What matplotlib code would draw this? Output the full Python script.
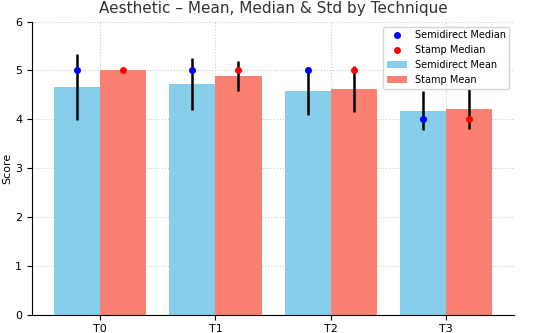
import matplotlib
matplotlib.use("Agg")
import matplotlib.pyplot as plt
import numpy as np

techniques = ["T0", "T1", "T2", "T3"]
semi_mean = [4.66, 4.72, 4.58, 4.18]
semi_std = [0.67, 0.53, 0.49, 0.39]
semi_median = [5, 5, 5, 4]
stamp_mean = [5.0, 4.89, 4.62, 4.21]
stamp_std = [0.0, 0.31, 0.48, 0.41]
stamp_median = [5, 5, 5, 4]

x = np.arange(len(techniques))
w = 0.4

fig, ax = plt.subplots(figsize=(5.5, 3.33), dpi=100)
ax.bar(x - w / 2, semi_mean, w, color="#87CEEB", label="Semidirect Mean", zorder=2)
ax.bar(x + w / 2, stamp_mean, w, color="#FA8072", label="Stamp Mean", zorder=2)
ax.errorbar(x - w / 2, semi_mean, yerr=semi_std, fmt="none", ecolor="black", elinewidth=1.8, zorder=3)
ax.errorbar(x + w / 2, stamp_mean, yerr=stamp_std, fmt="none", ecolor="black", elinewidth=1.8, zorder=3)
ax.plot(x - w / 2, semi_median, "o", color="blue", markersize=4, linestyle="none", label="Semidirect Median", zorder=4)
ax.plot(x + w / 2, stamp_median, "o", color="red", markersize=4, linestyle="none", label="Stamp Median", zorder=4)

ax.set_xticks(x)
ax.set_xticklabels(techniques, fontsize=8)
ax.tick_params(axis="y", labelsize=8)
ax.set_ylim(0, 6)
ax.set_ylabel("Score", fontsize=8, labelpad=2)
ax.set_title("Aesthetic \u2013 Mean, Median & Std by Technique", fontsize=11, color="#333333")
ax.grid(True, linestyle=":", color="#cccccc", linewidth=0.8, zorder=0)
ax.set_axisbelow(True)
for s in ["top", "right"]:
    ax.spines[s].set_visible(False)

handles, labels = ax.get_legend_handles_labels()
want = ["Semidirect Median", "Stamp Median", "Semidirect Mean", "Stamp Mean"]
hmap = dict(zip(labels, handles))
ax.legend([hmap[k] for k in want], want, loc="upper right", fontsize=7)

fig.subplots_adjust(left=0.058, right=0.935, top=0.935, bottom=0.055)
fig.savefig("out.png", dpi=100)
